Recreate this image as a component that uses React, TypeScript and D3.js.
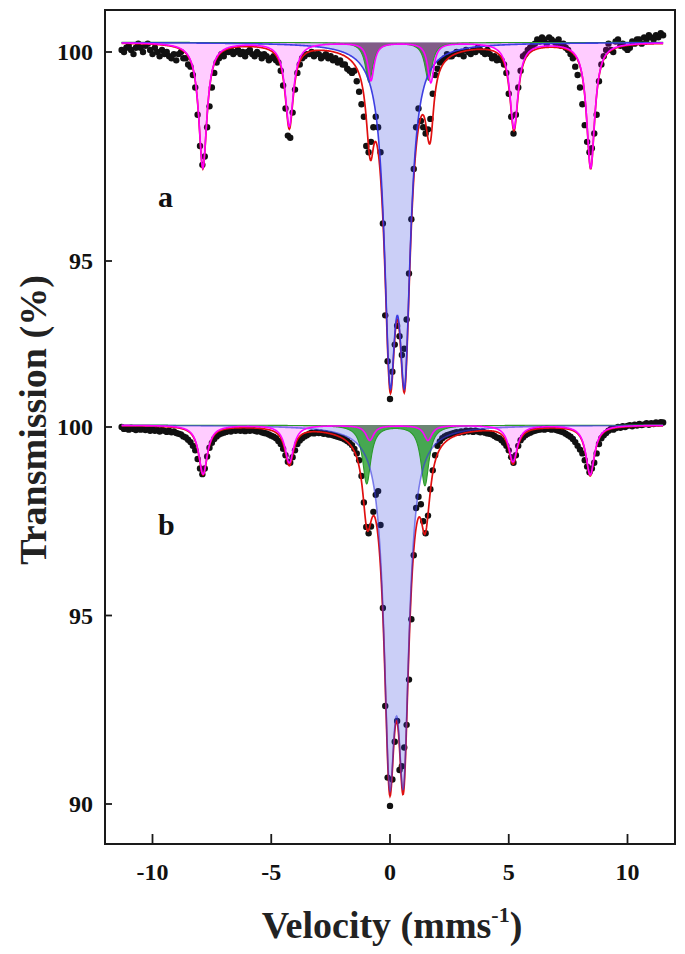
import React from 'react';
import * as d3 from 'd3';

const W = 685;
const H = 954;

const xTicks = [-10, -5, 0, 5, 10];
const yTicksA = [100, 95];
const yTicksB = [100, 95, 90];

// ---------- Panel a : fit components ----------
const baseA = 100.23;
const sextetPosA = [-7.88, -4.24, -0.8, 1.72, 5.22, 8.45];
const sextetDepA = [3.0, 2.0, 0.9, 0.95, 2.05, 3.0];
const sextetHwA = [0.21, 0.21, 0.16, 0.16, 0.21, 0.21];
const greenPosA = [-0.88, 1.62];
const greenDepA = [0.95, 0.9];
const greenHwA = [0.19, 0.19];
const bluePosA = [0.0, 0.62];
const blueDepA = [7.0, 7.0];
const blueHwA = [0.29, 0.29];

// ---------- Panel b : fit components ----------
const baseB = 100.05;
const sextetPosB = [-7.87, -4.24, -0.85, 1.6, 5.18, 8.43];
const sextetDepB = [1.3, 1.0, 0.4, 0.4, 0.97, 1.32];
const sextetHwB = [0.22, 0.22, 0.2, 0.2, 0.22, 0.22];
const greenPosB = [-0.98, 1.47];
const greenDepB = [1.55, 1.6];
const greenHwB = [0.21, 0.21];
const bluePosB = [-0.02, 0.57];
const blueDepB = [8.17, 8.12];
const blueHwB = [0.28, 0.28];

// ---------- measured points (velocity, transmission) ----------
const dataA: [number, number][] = [
  [-11.3,100.05],[-11.2,100.0],[-11.1,100.1],[-11.0,100.15],[-10.9,100.05],[-10.8,99.95],[-10.7,100.1],[-10.6,100.2],[-10.5,100.1],[-10.4,100.0],
  [-10.3,100.15],[-10.2,100.2],[-10.1,100.05],[-10.0,99.95],[-9.9,100.1],[-9.8,100.0],[-9.7,99.9],[-9.6,100.05],[-9.5,99.95],[-9.4,100.0],
  [-9.3,99.9],[-9.2,99.85],[-9.1,99.95],[-9.0,99.8],[-8.9,99.95],[-8.8,100.0],[-8.7,99.85],[-8.6,99.85],[-8.5,99.7],[-8.4,99.65],
  [-8.3,99.45],[-8.2,99.15],[-8.1,98.5],[-8.0,97.75],[-7.9,97.3],[-7.8,97.5],[-7.7,98.2],[-7.6,98.7],[-7.5,99.15],[-7.4,99.5],
  [-7.3,99.75],[-7.2,99.85],[-7.1,99.95],[-7.0,99.9],[-6.9,100.0],[-6.8,100.0],[-6.7,100.05],[-6.6,99.95],[-6.5,100.0],[-6.4,100.05],
  [-6.3,99.95],[-6.2,100.0],[-6.1,99.9],[-6.0,100.0],[-5.9,100.05],[-5.8,99.95],[-5.7,99.9],[-5.6,100.0],[-5.5,99.95],[-5.4,99.85],
  [-5.3,99.95],[-5.2,99.9],[-5.1,99.8],[-5.0,99.85],[-4.9,99.9],[-4.8,99.8],[-4.7,99.75],[-4.6,99.55],[-4.5,99.2],[-4.4,98.65],
  [-4.3,98.0],[-4.2,97.95],[-4.1,98.55],[-4.0,99.1],[-3.9,99.5],[-3.8,99.7],[-3.7,99.85],[-3.6,99.9],[-3.5,99.95],[-3.4,99.95],
  [-3.3,100.0],[-3.2,99.9],[-3.1,99.95],[-3.0,99.95],[-2.9,99.85],[-2.8,99.9],[-2.7,99.95],[-2.6,99.85],[-2.5,99.9],[-2.4,99.8],
  [-2.3,99.85],[-2.2,99.75],[-2.1,99.8],[-2.0,99.7],[-1.9,99.7],[-1.8,99.6],[-1.7,99.55],[-1.6,99.5],[-1.5,99.55],[-1.4,99.3],
  [-1.3,99.05],[-1.2,98.75],[-1.1,98.45],[-1.0,97.75],[-0.9,97.6],[-0.8,97.85],[-0.7,98.2],[-0.6,98.45],[-0.5,98.2],[-0.4,97.6],
  [-0.3,95.9],[-0.2,93.7],[-0.1,92.6],[0.0,91.7],[0.1,92.35],[0.2,93.0],[0.3,93.45],[0.4,93.2],[0.5,92.75],[0.6,92.9],
  [0.7,93.6],[0.8,94.7],[0.9,96.0],[1.0,97.2],[1.1,98.2],[1.2,98.65],[1.3,98.35],[1.4,98.2],[1.5,98.05],[1.6,98.15],
  [1.7,98.4],[1.8,99.0],[1.9,99.45],[2.0,99.6],[2.1,99.75],[2.2,99.8],[2.3,99.85],[2.4,99.95],[2.5,99.9],[2.6,99.9],
  [2.7,99.95],[2.8,100.0],[2.9,99.95],[3.0,100.0],[3.1,99.9],[3.2,100.05],[3.3,100.0],[3.4,99.95],[3.5,100.05],[3.6,100.0],
  [3.7,100.1],[3.8,100.05],[3.9,100.0],[4.0,99.95],[4.1,100.05],[4.2,99.95],[4.3,99.85],[4.4,99.9],[4.5,99.8],[4.6,99.85],
  [4.7,99.8],[4.8,99.7],[4.9,99.5],[5.0,99.0],[5.1,98.45],[5.2,98.05],[5.3,98.5],[5.4,99.15],[5.5,99.55],[5.6,99.9],
  [5.7,99.95],[5.8,100.05],[5.9,100.1],[6.0,100.15],[6.1,100.2],[6.2,100.3],[6.3,100.25],[6.4,100.35],[6.5,100.3],[6.6,100.2],
  [6.7,100.35],[6.8,100.3],[6.9,100.25],[7.0,100.2],[7.1,100.3],[7.2,100.15],[7.3,100.2],[7.4,100.1],[7.5,100.05],[7.6,99.95],
  [7.7,99.85],[7.8,99.65],[7.9,99.45],[8.0,99.15],[8.1,98.75],[8.2,98.25],[8.3,97.85],[8.4,97.6],[8.5,97.7],[8.6,98.05],
  [8.7,98.5],[8.8,99.3],[8.9,99.7],[9.0,99.9],[9.1,100.05],[9.2,100.2],[9.3,100.05],[9.4,100.0],[9.5,100.25],[9.6,100.3],
  [9.7,100.15],[9.8,100.2],[9.9,100.1],[10.0,100.05],[10.1,100.1],[10.2,100.25],[10.3,100.2],[10.4,100.3],[10.5,100.3],[10.6,100.2],
  [10.7,100.35],[10.8,100.3],[10.9,100.4],[11.0,100.35],[11.1,100.3],[11.2,100.4],[11.3,100.35],[11.4,100.45],[11.5,100.4],
];

const dataB: [number, number][] = [
  [-11.3,100.0],[-11.2,99.95],[-11.1,99.97],[-11.0,99.93],[-10.9,99.98],[-10.8,99.95],[-10.7,99.92],[-10.6,99.97],[-10.5,99.93],[-10.4,99.96],
  [-10.3,99.92],[-10.2,99.95],[-10.1,99.9],[-10.0,99.94],[-9.9,99.9],[-9.8,99.93],[-9.7,99.88],[-9.6,99.92],[-9.5,99.9],[-9.4,99.87],
  [-9.3,99.9],[-9.2,99.86],[-9.1,99.88],[-9.0,99.84],[-8.9,99.82],[-8.8,99.8],[-8.7,99.75],[-8.6,99.72],[-8.5,99.66],[-8.4,99.6],
  [-8.3,99.5],[-8.2,99.38],[-8.1,99.15],[-8.0,98.9],[-7.9,98.75],[-7.8,98.9],[-7.7,99.22],[-7.6,99.45],[-7.5,99.58],[-7.4,99.68],
  [-7.3,99.75],[-7.2,99.8],[-7.1,99.83],[-7.0,99.85],[-6.9,99.87],[-6.8,99.9],[-6.7,99.88],[-6.6,99.92],[-6.5,99.9],[-6.4,99.93],
  [-6.3,99.9],[-6.2,99.92],[-6.1,99.89],[-6.0,99.92],[-5.9,99.9],[-5.8,99.93],[-5.7,99.9],[-5.6,99.88],[-5.5,99.9],[-5.4,99.86],
  [-5.3,99.84],[-5.2,99.83],[-5.1,99.8],[-5.0,99.77],[-4.9,99.74],[-4.8,99.7],[-4.7,99.63],[-4.6,99.55],[-4.5,99.42],[-4.4,99.25],
  [-4.3,99.08],[-4.2,99.05],[-4.1,99.2],[-4.0,99.38],[-3.9,99.55],[-3.8,99.64],[-3.7,99.7],[-3.6,99.75],[-3.5,99.78],[-3.4,99.82],
  [-3.3,99.85],[-3.2,99.83],[-3.1,99.86],[-3.0,99.84],[-2.9,99.85],[-2.8,99.82],[-2.7,99.83],[-2.6,99.8],[-2.5,99.8],[-2.4,99.78],
  [-2.3,99.76],[-2.2,99.74],[-2.1,99.72],[-2.0,99.7],[-1.9,99.67],[-1.8,99.63],[-1.7,99.58],[-1.6,99.52],[-1.5,99.42],[-1.4,99.3],
  [-1.3,99.12],[-1.2,98.7],[-1.1,98.0],[-1.0,97.35],[-0.9,97.18],[-0.8,97.36],[-0.7,97.75],[-0.6,98.2],[-0.5,98.3],[-0.4,97.4],
  [-0.3,95.2],[-0.2,92.6],[-0.1,90.7],[0.0,89.95],[0.1,90.65],[0.2,91.65],[0.3,92.2],[0.4,90.9],[0.5,91.0],[0.6,91.5],
  [0.7,92.1],[0.8,93.3],[0.9,94.9],[1.0,96.6],[1.1,97.85],[1.2,98.15],[1.3,97.95],[1.4,97.5],[1.5,97.18],[1.6,97.65],
  [1.7,98.35],[1.8,98.85],[1.9,99.25],[2.0,99.5],[2.1,99.62],[2.2,99.7],[2.3,99.75],[2.4,99.78],[2.5,99.8],[2.6,99.82],
  [2.7,99.84],[2.8,99.86],[2.9,99.85],[3.0,99.88],[3.1,99.86],[3.2,99.9],[3.3,99.88],[3.4,99.9],[3.5,99.87],[3.6,99.9],
  [3.7,99.88],[3.8,99.86],[3.9,99.88],[4.0,99.85],[4.1,99.83],[4.2,99.82],[4.3,99.8],[4.4,99.76],[4.5,99.72],[4.6,99.7],
  [4.7,99.65],[4.8,99.58],[4.9,99.5],[5.0,99.38],[5.1,99.2],[5.2,99.05],[5.3,99.25],[5.4,99.5],[5.5,99.65],[5.6,99.72],
  [5.7,99.78],[5.8,99.82],[5.9,99.85],[6.0,99.88],[6.1,99.9],[6.2,99.92],[6.3,99.93],[6.4,99.95],[6.5,99.93],[6.6,99.96],
  [6.7,99.95],[6.8,99.93],[6.9,99.95],[7.0,99.92],[7.1,99.9],[7.2,99.88],[7.3,99.86],[7.4,99.82],[7.5,99.78],[7.6,99.74],
  [7.7,99.68],[7.8,99.6],[7.9,99.5],[8.0,99.4],[8.1,99.3],[8.2,99.12],[8.3,98.95],[8.4,98.8],[8.5,98.9],[8.6,99.05],
  [8.7,99.3],[8.8,99.55],[8.9,99.7],[9.0,99.78],[9.1,99.84],[9.2,99.9],[9.3,99.95],[9.4,99.93],[9.5,99.97],[9.6,100.0],
  [9.7,99.98],[9.8,100.02],[9.9,100.0],[10.0,100.03],[10.1,100.05],[10.2,100.02],[10.3,100.06],[10.4,100.04],[10.5,100.08],[10.6,100.05],
  [10.7,100.07],[10.8,100.1],[10.9,100.06],[11.0,100.1],[11.1,100.08],[11.2,100.12],[11.3,100.1],[11.4,100.13],[11.5,100.12],
];

const lorSum = (v: number, pos: number[], dep: number[], hw: number[]) =>
  pos.reduce((s, p, i) => s + (dep[i] * hw[i] * hw[i]) / (hw[i] * hw[i] + (v - p) * (v - p)), 0);

const x = d3.scaleLinear().domain([-12, 12]).range([105, 675]);
const yA = d3.scaleLinear().domain([95, 100]).range([261, 52]);
const yB = d3.scaleLinear().domain([90, 100]).range([804, 427]);

const grid = d3.range(-11.3, 11.5001, 0.02);

type Comp = { pos: number[]; dep: number[]; hw: number[] };

function Panel({
  y, base, sextet, green, blue, data, greenFill, greenOpacity, blueLineOpacity,
}: {
  y: d3.ScaleLinear<number, number>; base: number; sextet: Comp; green: Comp; blue: Comp;
  data: [number, number][]; greenFill: string; greenOpacity: number; blueLineOpacity: number;
}) {
  const fS = (v: number) => lorSum(v, sextet.pos, sextet.dep, sextet.hw);
  const fG = (v: number) => lorSum(v, green.pos, green.dep, green.hw);
  const fB = (v: number) => lorSum(v, blue.pos, blue.dep, blue.hw);
  const area = (f: (v: number) => number) =>
    d3.area<number>().x((v) => x(v)).y0(y(base)).y1((v) => y(base - f(v)))(grid) || '';
  const line = (f: (v: number) => number) =>
    d3.line<number>().x((v) => x(v)).y((v) => y(base - f(v)))(grid) || '';
  const total = (v: number) => fS(v) + fG(v) + fB(v);
  return (
    <g>
      {data.map(([v, t], i) => (
        <circle key={i} cx={x(v)} cy={y(t)} r={3.2} fill="#111" />
      ))}
      <path d={area(fB)} fill="#3040e0" fillOpacity={0.25} />
      <path d={area(fG)} fill={greenFill} fillOpacity={greenOpacity} />
      <path d={area(fS)} fill="#ff00ff" fillOpacity={0.2} />
      <path d={line(total)} fill="none" stroke="#e01010" strokeWidth={1.7} />
      <path d={line(fG)} fill="none" stroke="#2a9a2a" strokeWidth={1.1} />
      <path d={line(fB)} fill="none" stroke="#3535e0" strokeWidth={1.6} strokeOpacity={blueLineOpacity} />
      <path d={line(fS)} fill="none" stroke="#ff00ff" strokeWidth={1.6} />
    </g>
  );
}

export default function App() {
  const font = "'Liberation Serif', 'Times New Roman', serif";
  return (
    <svg width={W} height={H} style={{ position: 'absolute', left: 0, top: 0, background: '#fff' }}
      fontFamily={font}>
      <rect x={0} y={0} width={W} height={H} fill="#fff" />
      <Panel y={yA} base={baseA}
        sextet={{ pos: sextetPosA, dep: sextetDepA, hw: sextetHwA }}
        green={{ pos: greenPosA, dep: greenDepA, hw: greenHwA }}
        blue={{ pos: bluePosA, dep: blueDepA, hw: blueHwA }}
        data={dataA} greenFill="#506450" greenOpacity={0.85} blueLineOpacity={0.95} />
      <Panel y={yB} base={baseB}
        sextet={{ pos: sextetPosB, dep: sextetDepB, hw: sextetHwB }}
        green={{ pos: greenPosB, dep: greenDepB, hw: greenHwB }}
        blue={{ pos: bluePosB, dep: blueDepB, hw: blueHwB }}
        data={dataB} greenFill="#1a9a1a" greenOpacity={0.75} blueLineOpacity={0.6} />

      {/* frame */}
      <rect x={105} y={10} width={570} height={834} fill="none" stroke="#1a1a1a" strokeWidth={2} />

      {/* x ticks */}
      {xTicks.map((t) => (
        <g key={t}>
          <line x1={x(t)} x2={x(t)} y1={844} y2={834} stroke="#1a1a1a" strokeWidth={1.8} />
          <text x={x(t)} y={880} textAnchor="middle" fontSize={24} fontWeight="bold" fill="#111">{t}</text>
        </g>
      ))}
      {/* y ticks panel a */}
      {yTicksA.map((t) => (
        <g key={'a' + t}>
          <line x1={105} x2={112} y1={yA(t)} y2={yA(t)} stroke="#1a1a1a" strokeWidth={1.8} />
          <text x={93} y={yA(t)} dy="0.35em" textAnchor="end" fontSize={24} fontWeight="bold" fill="#111">{t}</text>
        </g>
      ))}
      {/* y ticks panel b */}
      {yTicksB.map((t) => (
        <g key={'b' + t}>
          <line x1={105} x2={112} y1={yB(t)} y2={yB(t)} stroke="#1a1a1a" strokeWidth={1.8} />
          <text x={93} y={yB(t)} dy="0.35em" textAnchor="end" fontSize={24} fontWeight="bold" fill="#111">{t}</text>
        </g>
      ))}

      <text x={158} y={207} fontSize={30} fontWeight="bold" fill="#111">a</text>
      <text x={158} y={535} fontSize={30} fontWeight="bold" fill="#111">b</text>

      <text transform="translate(46,420) rotate(-90)" textAnchor="middle" fontSize={38} fontWeight="bold" fill="#222">
        Transmission (%)
      </text>
      <text x={392} y={938} textAnchor="middle" fontSize={38} fontWeight="bold" fill="#222">
        Velocity (mms<tspan fontSize={22} dy={-16}>-1</tspan><tspan dy={16}>)</tspan>
      </text>
    </svg>
  );
}
